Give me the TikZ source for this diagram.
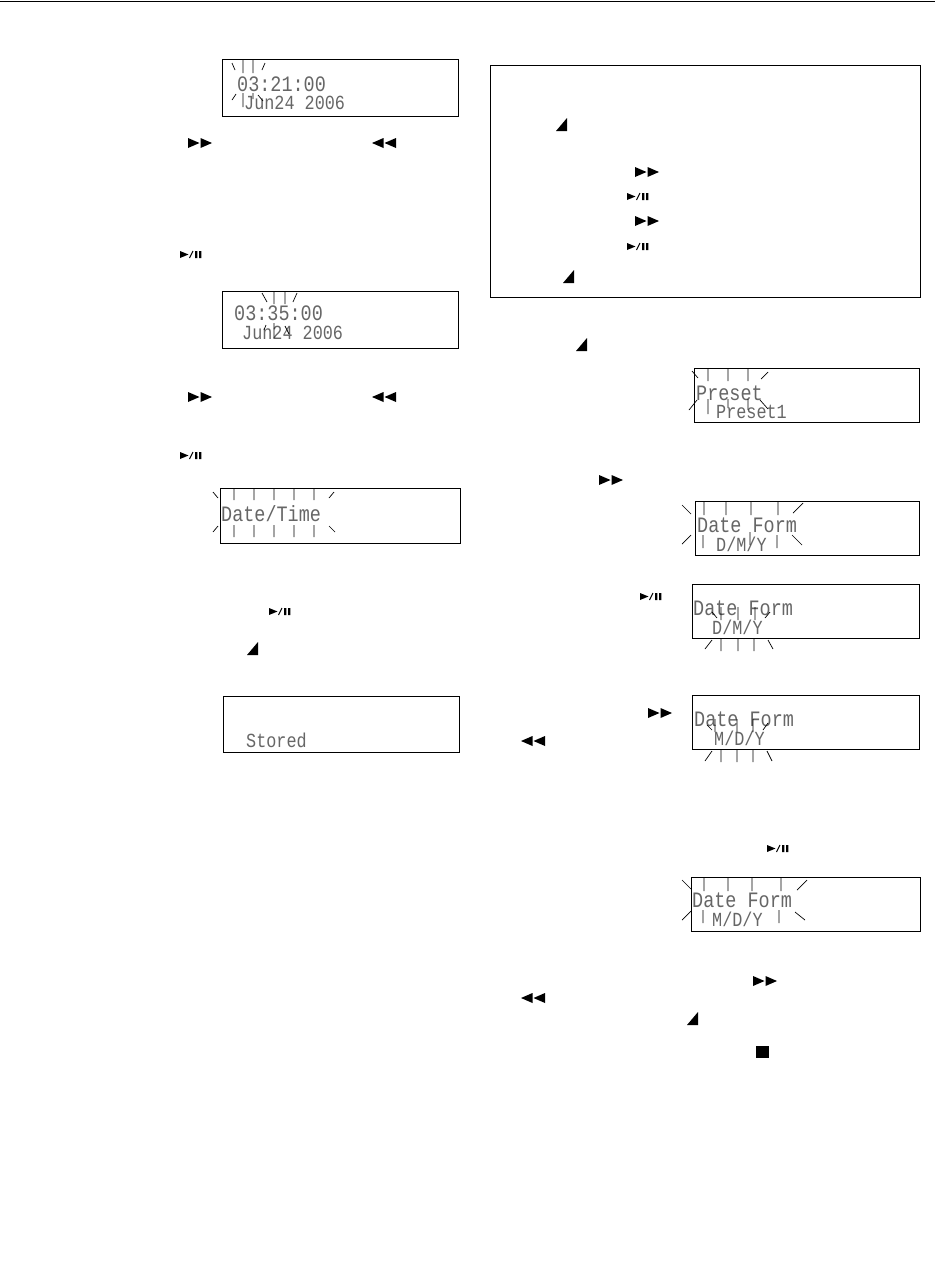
\documentclass[tikz,border=0pt]{standalone}
\usepackage{fontspec}
\newfontfamily\lcdfont[FakeStretch=0.84]{Liberation Mono}
\tikzset{
  lcdbox/.style={draw, line width=0.9pt, rectangle, inner sep=0pt, anchor=north west},
  frame/.style={draw, line width=0.9pt, rectangle, inner sep=0pt, anchor=north west},
  lcdA/.style={inner sep=0pt, anchor=base west, text height=13pt, text depth=0pt, font=\lcdfont\fontsize{22}{22}\selectfont, text=black!60},
  lcdB/.style={inner sep=0pt, anchor=base west, text height=12pt, text depth=0pt, font=\lcdfont\fontsize{20}{20}\selectfont, text=black!60},
  blink/.style={line width=0.7pt},
  ff/.pic={\fill (0,0)--(11.5,5)--(0,10)--cycle (12.5,0)--(24,5)--(12.5,10)--cycle;},
  rew/.pic={\fill (11.5,0)--(0,5)--(11.5,10)--cycle (24,0)--(12.5,5)--(24,10)--cycle;},
  pp/.pic={\fill (0,0)--(8.5,3.5)--(0,7)--cycle; \draw[line width=1pt] (9.5,7)--(13,0); \fill (15,0) rectangle (17.3,7) (19,0) rectangle (21.3,7);},
  vol/.pic={\fill (0,13)--(11,13)--(11,0)--cycle;},
  stopbtn/.pic={\fill (0,0) rectangle (12.5,12);}
}
\begin{document}
\begin{tikzpicture}[x=1pt,y=-1pt]
\useasboundingbox (0,0) rectangle (950,1267);
\draw[line width=0.9pt] (0,1) -- (935,1);

% ---------- left column ----------
\node[lcdbox, minimum width=236pt, minimum height=57pt] (lcd1) at (222,59) {};
\node[lcdA] (lcd1a) at (237,91) {03:21:00};
\node[lcdB] (lcd1b) at (244,109) {Jun24 2006};
\draw[blink] (232,63)--(235,70) (243,59)--(243,73) (253,59)--(253,73) (265,63)--(262,70);
\draw[blink] (236,94)--(232,100) (243,93)--(243,107) (253,93)--(253,99) (258,95)--(263,101);

\pic at (188,138) {ff};
\pic at (372,138) {rew};
\pic at (180,251) {pp};

\node[lcdbox, minimum width=236pt, minimum height=57pt] (lcd2) at (222,291) {};
\node[lcdA] (lcd2a) at (234,320) {03:35:00};
\node[lcdB] (lcd2b) at (242,339) {Jun24 2006};
\draw[blink] (262,293)--(267,302) (274,291)--(274,304) (285,291)--(285,304) (297,293)--(293,302);
\draw[blink] (266,325)--(264,330) (274,323)--(274,338) (285,326)--(289,334);

\pic at (188,392) {ff};
\pic at (372,392) {rew};
\pic at (180,452) {pp};

\node[lcdbox, minimum width=240pt, minimum height=55pt] (lcd3) at (220,488) {};
\node[lcdA] (lcd3a) at (221,521) {Date/Time};
\draw[blink] (213,492)--(218,498) (234,488)--(234,500) (254,488)--(254,500) (274,488)--(274,500) (294,488)--(294,500) (314,488)--(314,500) (334,492)--(329,498);
\draw[blink] (218,526)--(213,532) (234,525)--(234,537) (254,525)--(254,537) (274,525)--(274,537) (294,525)--(294,537) (314,525)--(314,537) (329,526)--(335,532);

\pic at (269,608) {pp};
\pic at (247,642) {vol};

\node[lcdbox, minimum width=236pt, minimum height=56pt] (lcd4) at (223,696) {};
\node[lcdB] (lcd4b) at (246,747) {Stored};

% ---------- right column ----------
\node[frame, minimum width=430pt, minimum height=232pt] (panel) at (490,65) {};
\pic at (556,118) {vol};
\pic at (635,167) {ff};
\pic at (627,193) {pp};
\pic at (635,216) {ff};
\pic at (627,243) {pp};
\pic at (563,270) {vol};

\pic at (576,338) {vol};
\node[lcdbox, minimum width=225pt, minimum height=54pt] (lcd5) at (694,368) {};
\node[lcdA] (lcd5a) at (696,400) {Preset};
\node[lcdB] (lcd5b) at (716,418) {Preset1};
\draw[blink] (692,371)--(698,378) (708,368)--(708,381) (728,368)--(728,381) (748,368)--(748,381) (768,372)--(761,379);
\draw[blink] (697,400)--(689,410) (708,399)--(708,414) (728,399)--(728,408) (748,399)--(748,410) (760,400)--(768,409);

\pic at (599,475) {ff};
\node[lcdbox, minimum width=224pt, minimum height=54pt] (lcd6) at (695,501) {};
\node[lcdA] (lcd6a) at (697,532) {Date Form};
\node[lcdB] (lcd6b) at (716,551) {D/M/Y};
\draw[blink] (682,505)--(691,514) (704,501)--(704,515) (726,501)--(726,515) (751,501)--(751,515) (778,501)--(778,515) (803,503)--(793,513);
\draw[blink] (682,544)--(691,535) (703,535)--(703,548) (750,532)--(750,545) (777,535)--(777,548) (792,535)--(802,545);

\pic at (640,593) {pp};
\node[lcdbox, minimum width=227pt, minimum height=54pt] (lcd7) at (692,584) {};
\node[lcdA] (lcd7a) at (693,615) {Date Form};
\node[lcdB] (lcd7b) at (712,634) {D/M/Y};
\draw[blink] (712,612)--(717,618) (721,607)--(721,620) (738,607)--(738,620) (755,607)--(755,620) (770,612)--(765,618);
\draw[blink] (712,640)--(705,649) (721,639)--(721,651) (738,639)--(738,651) (754,639)--(754,651) (768,640)--(773,649);

\pic at (648,708) {ff};
\pic at (521,736) {rew};
\node[lcdbox, minimum width=227pt, minimum height=54pt] (lcd8) at (692,695) {};
\node[lcdA] (lcd8a) at (694,726) {Date Form};
\node[lcdB] (lcd8b) at (714,745) {M/D/Y};
\draw[blink] (707,725)--(712,730) (715,719)--(715,732) (737,719)--(737,732) (753,719)--(753,732) (768,723)--(763,730);
\draw[blink] (712,751)--(705,761) (721,750)--(721,762) (737,750)--(737,762) (753,750)--(753,762) (767,751)--(772,761);

\pic at (767,845) {pp};
\node[lcdbox, minimum width=229pt, minimum height=54pt] (lcd9) at (691,877) {};
\node[lcdA] (lcd9a) at (692,907) {Date Form};
\node[lcdB] (lcd9b) at (712,926) {M/D/Y};
\draw[blink] (682,880)--(691,889) (704,877)--(704,891) (728,877)--(728,891) (752,877)--(752,891) (781,877)--(781,891) (807,880)--(797,890);
\draw[blink] (682,920)--(691,911) (703,910)--(703,923) (779,910)--(779,923) (795,912)--(805,920);

\pic at (753,976) {ff};
\pic at (521,993) {rew};
\pic at (687,1012) {vol};
\pic at (756,1046) {stopbtn};
\end{tikzpicture}
\end{document}
